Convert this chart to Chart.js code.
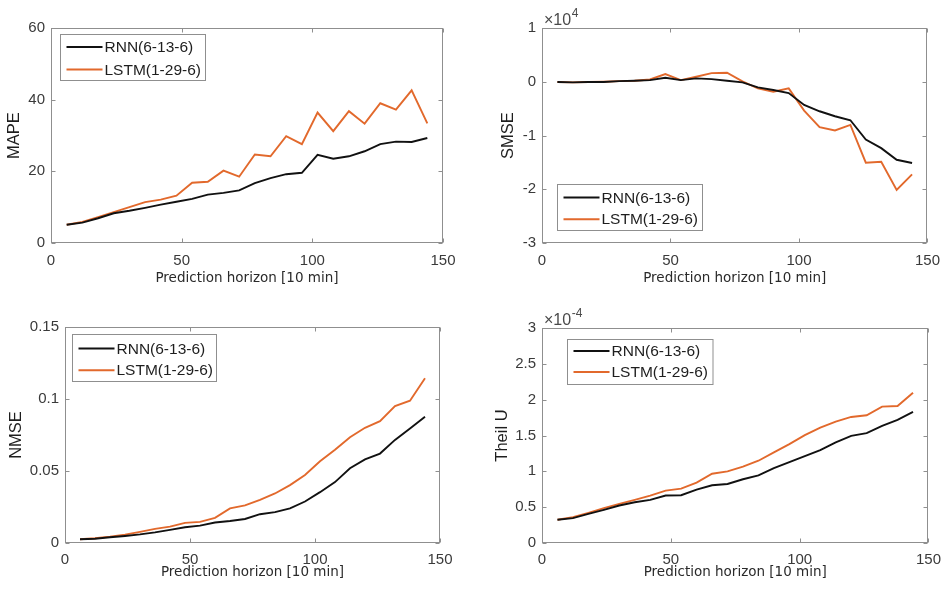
<!DOCTYPE html>
<html>
<head>
<meta charset="utf-8">
<script src="https://cdn.jsdelivr.net/npm/chart.js@4.4.1/dist/chart.umd.min.js"></script>
<style>
  html, body { margin: 0; padding: 0; background: #fff; }
  #wrap { position: relative; width: 949px; height: 589px; background: #fff; overflow: hidden; }
  canvas { position: absolute; }
</style>
</head>
<body>
<div id="wrap">
  <canvas id="c1" width="474" height="294" style="left:0;top:0"></canvas>
  <canvas id="c2" width="475" height="294" style="left:474px;top:0"></canvas>
  <canvas id="c3" width="474" height="295" style="left:0;top:294px"></canvas>
  <canvas id="c4" width="475" height="295" style="left:474px;top:294px"></canvas>
</div>
<script>
// ---------- DATA ----------
const horizon = [6, 12, 18, 24, 30, 36, 42, 48, 54, 60, 66, 72, 78, 84, 90, 96, 102, 108, 114, 120, 126, 132, 138, 144];
const seriesNames = ['RNN(6-13-6)', 'LSTM(1-29-6)'];

const rnnMAPE  = [5.1, 5.7, 6.9, 8.3, 9.0, 9.8, 10.7, 11.5, 12.3, 13.5, 14.0, 14.7, 16.7, 18.1, 19.2, 19.6, 24.6, 23.5, 24.2, 25.6, 27.6, 28.3, 28.2, 29.3];
const lstmMAPE = [5.1, 5.9, 7.2, 8.6, 10.0, 11.4, 12.1, 13.2, 16.8, 17.1, 20.2, 18.5, 24.7, 24.2, 29.8, 27.6, 36.4, 31.2, 36.8, 33.3, 39.0, 37.2, 42.6, 33.4];

const rnnSMSE  = [-60, -120, -60, -60, 120, 190, 310, 740, 310, 620, 490, 190, -120, -1050, -1540, -2100, -4320, -5490, -6420, -7160, -10740, -12350, -14510, -15120];
const lstmSMSE = [-60, -120, -60, 0, 120, 190, 430, 1420, 310, 930, 1600, 1670, 60, -1230, -1850, -1230, -5370, -8460, -9070, -8020, -15060, -14880, -20120, -17220];

const rnnNMSE  = [0.0026, 0.0030, 0.0040, 0.0049, 0.0060, 0.0074, 0.0091, 0.0109, 0.0121, 0.0142, 0.0153, 0.0167, 0.0200, 0.0214, 0.0240, 0.0288, 0.0353, 0.0423, 0.0519, 0.0581, 0.0621, 0.0716, 0.0795, 0.0877];
const lstmNMSE = [0.0026, 0.0033, 0.0044, 0.0058, 0.0077, 0.0098, 0.0114, 0.0140, 0.0147, 0.0175, 0.0240, 0.0261, 0.0300, 0.0344, 0.0402, 0.0472, 0.0567, 0.0647, 0.0735, 0.0800, 0.0846, 0.0951, 0.0988, 0.1144];

const rnnTheil  = [0.324e-4, 0.347e-4, 0.407e-4, 0.463e-4, 0.523e-4, 0.569e-4, 0.602e-4, 0.662e-4, 0.667e-4, 0.745e-4, 0.806e-4, 0.824e-4, 0.889e-4, 0.944e-4, 1.046e-4, 1.130e-4, 1.213e-4, 1.296e-4, 1.403e-4, 1.495e-4, 1.532e-4, 1.634e-4, 1.718e-4, 1.829e-4];
const lstmTheil = [0.324e-4, 0.361e-4, 0.421e-4, 0.486e-4, 0.546e-4, 0.602e-4, 0.662e-4, 0.731e-4, 0.759e-4, 0.843e-4, 0.967e-4, 1.000e-4, 1.065e-4, 1.148e-4, 1.264e-4, 1.380e-4, 1.505e-4, 1.611e-4, 1.694e-4, 1.759e-4, 1.782e-4, 1.903e-4, 1.912e-4, 2.097e-4];

const xTicks = [0, 50, 100, 150];
const mapeTicks  = [0, 20, 40, 60];
const smseTicks  = [-30000, -20000, -10000, 0, 10000];
const smseTickLabels = ['-3', '-2', '-1', '0', '1'];
const nmseTicks  = [0, 0.05, 0.1, 0.15];
const nmseTickLabels = ['0', '0.05', '0.1', '0.15'];
const theilTicks = [0, 0.5e-4, 1e-4, 1.5e-4, 2e-4, 2.5e-4, 3e-4];
const theilTickLabels = ['0', '0.5', '1', '1.5', '2', '2.5', '3'];
const xTitle = 'Prediction horizon [10 min]';

// ---------- STYLE ----------
const AXIS_GRAY = '#8f8f8f';
const TICK_TXT = '#3a3a3a';
const C_RNN = '#111111';
const C_LSTM = '#E2692C';
const SANS = '"Liberation Sans", Arial, Helvetica, sans-serif';

const matlabAxes = {
  id: 'matlabAxes',
  afterDatasetsDraw(chart, args, o) {
    const {ctx, chartArea: a} = chart;
    const xs = chart.scales.x, ys = chart.scales.y;
    const L = Math.round(a.left) + 0.5, R = Math.round(a.right) - 0.5;
    const T = Math.round(a.top) + 0.5, B = Math.round(a.bottom) - 0.5;
    ctx.save();
    ctx.strokeStyle = AXIS_GRAY;
    ctx.lineWidth = 1;
    const tl = 4;
    ctx.beginPath();
    xs.ticks.forEach(t => {
      const p = Math.round(xs.getPixelForValue(t.value)) + 0.5;
      ctx.moveTo(p, B); ctx.lineTo(p, B - tl);
      ctx.moveTo(p, T); ctx.lineTo(p, T + tl);
    });
    ys.ticks.forEach(t => {
      const p = Math.round(ys.getPixelForValue(t.value)) + 0.5;
      ctx.moveTo(L, p); ctx.lineTo(L + tl, p);
      ctx.moveTo(R, p); ctx.lineTo(R - tl, p);
    });
    ctx.stroke();
    ctx.strokeRect(L, T, R - L, B - T);
    if (o && o.exponent) {
      ctx.fillStyle = '#4a4a4a';
      ctx.textBaseline = 'alphabetic';
      ctx.textAlign = 'left';
      ctx.font = '16px ' + SANS;
      const txt = '\u00d710';
      const x0 = a.left + 2, y0 = a.top - 3;
      ctx.fillText(txt, x0, y0);
      const w = ctx.measureText(txt).width;
      ctx.font = '12px ' + SANS;
      ctx.fillText(o.exponent, x0 + w + 0.5, y0 - 8);
    }
    ctx.restore();
  }
};

const legendBox = {
  id: 'legendBox',
  afterDraw(chart, args, o) {
    const {ctx, chartArea: a} = chart;
    const x0 = Math.round(a.left + o.dx) + 0.5;
    const y0 = Math.round(o.fromBottom ? a.bottom - o.dy - o.h : a.top + o.dy) + 0.5;
    ctx.save();
    ctx.fillStyle = '#fff';
    ctx.fillRect(x0, y0, o.w, o.h);
    ctx.strokeStyle = AXIS_GRAY;
    ctx.lineWidth = 1;
    ctx.strokeRect(x0, y0, o.w, o.h);
    ctx.font = '15.5px ' + SANS;
    ctx.textBaseline = 'middle';
    ctx.textAlign = 'left';
    chart.data.datasets.forEach((ds, i) => {
      const yy = y0 + o.rowTop + i * o.rowGap;
      ctx.strokeStyle = ds.borderColor;
      ctx.lineWidth = 2;
      ctx.beginPath();
      ctx.moveTo(x0 + 6, yy); ctx.lineTo(x0 + 42, yy);
      ctx.stroke();
      ctx.fillStyle = '#1e1e1e';
      ctx.fillText(ds.label, x0 + 44, yy + 1);
    });
    ctx.restore();
  }
};

function pts(vals) { return horizon.map((h, i) => ({x: h, y: vals[i]})); }

function makeChart(id, p) {
  const ctx = document.getElementById(id).getContext('2d');
  return new Chart(ctx, {
    type: 'line',
    data: {
      datasets: [
        {label: seriesNames[0], data: pts(p.rnn), borderColor: C_RNN, backgroundColor: C_RNN, borderWidth: 1.9, pointRadius: 0, tension: 0, fill: false},
        {label: seriesNames[1], data: pts(p.lstm), borderColor: C_LSTM, backgroundColor: C_LSTM, borderWidth: 1.9, pointRadius: 0, tension: 0, fill: false}
      ]
    },
    options: {
      responsive: false,
      animation: false,
      events: [],
      layout: {autoPadding: false, padding: {left: 0, top: p.top, right: p.right, bottom: 0}},
      plugins: {
        legend: {display: false},
        tooltip: {enabled: false},
        matlabAxes: {exponent: p.exponent || null},
        legendBox: p.legend
      },
      scales: {
        x: {
          type: 'linear', min: 0, max: 150,
          afterBuildTicks: s => { s.ticks = xTicks.map(v => ({value: v})); },
          afterFit: s => { s.height = p.xH; },
          grid: {display: false, drawTicks: false},
          border: {display: false},
          ticks: {padding: p.xTickPad, color: TICK_TXT, font: {family: SANS, size: 15}, maxRotation: 0,
                  callback: v => String(v)},
          title: {display: true, text: xTitle, color: '#2a2a2a',
                  font: {family: '"DejaVu Sans", Verdana, sans-serif', size: 13.5, lineHeight: 1.2},
                  padding: {top: 0, bottom: p.xTitlePad}}
        },
        y: {
          type: 'linear', min: p.yTicks[0], max: p.yTicks[p.yTicks.length - 1],
          afterBuildTicks: s => { s.ticks = p.yTicks.map(v => ({value: v})); },
          afterFit: s => { s.width = p.yW; },
          grid: {display: false, drawTicks: false},
          border: {display: false},
          ticks: {padding: 6, color: TICK_TXT, font: {family: SANS, size: 15},
                  callback: (v, i) => p.yLabels ? p.yLabels[i] : String(v)},
          title: {display: true, text: p.yTitle, color: '#1e1e1e',
                  font: {family: SANS, size: 16.5, lineHeight: 1.2},
                  padding: {top: p.yTitlePad, bottom: 0}}
        }
      }
    },
    plugins: [matlabAxes, legendBox]
  });
}

makeChart('c1', {
  rnn: rnnMAPE, lstm: lstmMAPE, yTicks: mapeTicks, yTitle: 'MAPE',
  top: 28, right: 31, yW: 51, xH: 51, xTickPad: 9, xTitlePad: 7, yTitlePad: 5,
  legend: {dx: 8.5, dy: 6, w: 145, h: 46, rowTop: 12.4, rowGap: 22.6, fromBottom: false}
});
makeChart('c2', {
  rnn: rnnSMSE, lstm: lstmSMSE, yTicks: smseTicks, yLabels: smseTickLabels, yTitle: 'SMSE',
  top: 28, right: 14, yW: 68, xH: 51, xTickPad: 9, xTitlePad: 7, yTitlePad: 25, exponent: '4',
  legend: {dx: 15, dy: 13, w: 145, h: 46, rowTop: 13, rowGap: 21.7, fromBottom: true}
});
makeChart('c3', {
  rnn: rnnNMSE, lstm: lstmNMSE, yTicks: nmseTicks, yLabels: nmseTickLabels, yTitle: 'NMSE',
  top: 33, right: 34, yW: 65, xH: 46, xTickPad: 8, xTitlePad: 8, yTitlePad: 6.5,
  legend: {dx: 7, dy: 7, w: 144, h: 47, rowTop: 14, rowGap: 21.7, fromBottom: false}
});
makeChart('c4', {
  rnn: rnnTheil, lstm: lstmTheil, yTicks: theilTicks, yLabels: theilTickLabels, yTitle: 'Theil U',
  top: 34, right: 14, yW: 68, xH: 46, xTickPad: 8, xTitlePad: 8.5, yTitlePad: 19, exponent: '-4',
  legend: {dx: 24.5, dy: 11, w: 145.5, h: 45, rowTop: 11.4, rowGap: 21, fromBottom: false}
});
</script>
</body>
</html>
